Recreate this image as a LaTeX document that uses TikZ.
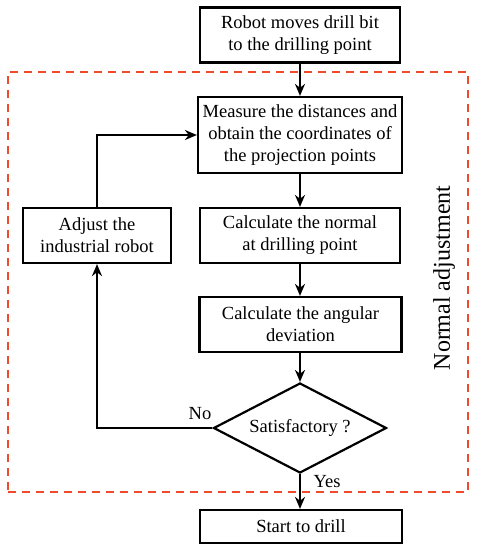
\documentclass[tikz,border=0pt]{standalone}
\usepackage{fontspec}
\setmainfont{Liberation Serif}
\usetikzlibrary{shapes.geometric,arrows.meta}
\definecolor{dashred}{HTML}{EE4A2C}
\tikzset{
  box/.style={draw, line width=2.2pt, align=center, inner sep=0pt, font=\fontsize{18.5}{22}\selectfont},
  flow/.style={line width=2.3pt, -{Stealth[length=12pt,width=10pt]}},
  lbl/.style={font=\fontsize{18.5}{22}\selectfont, inner sep=0pt},
  region/.style={draw=dashred, line width=1.7pt, dash pattern=on 8pt off 6pt}
}
\begin{document}
\begin{tikzpicture}[x=1pt,y=-1pt]
\useasboundingbox (0,0) rectangle (478,550);
\node[region, minimum width=460pt, minimum height=420pt, inner sep=0pt] (reg) at (238,282) {};
\node[box, minimum width=200pt, minimum height=55pt] (top) at (300,35) {Robot moves drill bit\\to the drilling point};
\node[box, minimum width=204pt, minimum height=76pt] (meas) at (300,135) {Measure the distances and\\obtain the coordinates of\\the projection points};
\node[box, minimum width=200pt, minimum height=55pt] (norm) at (300,235.5) {Calculate the normal\\at drilling point};
\node[box, minimum width=202pt, minimum height=55pt] (ang) at (300.5,324.5) {Calculate the angular\\deviation};
\node[box, shape=diamond, minimum width=173pt, minimum height=90pt, aspect=1.9] (sat) at (300,428) {Satisfactory ?};
\node[box, minimum width=202pt, minimum height=33pt] (start) at (301,526.5) {Start to drill};
\node[box, minimum width=148pt, minimum height=55pt] (adj) at (97,235.5) {Adjust the\\industrial robot};
\node[lbl, rotate=90, font=\fontsize{24}{28}\selectfont] (na) at (444,278) {Normal adjustment};
\draw[flow] (top) -- (meas);
\draw[flow] (meas) -- (norm);
\draw[flow] (norm.south) -- (norm.south |- ang.north);
\draw[flow] (ang.south -| sat.north) -- (sat.north);
\draw[flow] (sat.south) -- (start.north -| sat.south);
\draw[flow] (sat.west) -| (adj.south);
\draw[flow] (adj.north) |- (meas.west);
\node[lbl] (no) at (200,414) {No};
\node[lbl] (yes) at (327,482) {Yes};
\end{tikzpicture}
\end{document}
